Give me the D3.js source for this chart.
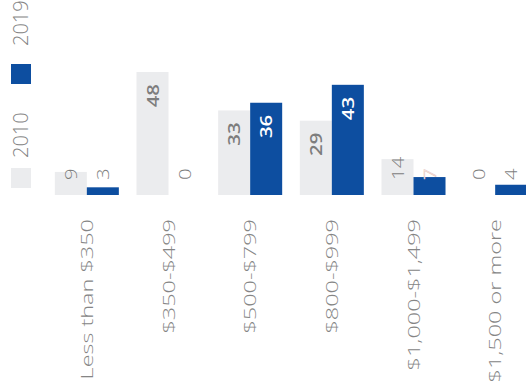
<!DOCTYPE html>
<html><head><meta charset="utf-8">
<script src="https://cdn.jsdelivr.net/npm/d3@7"></script>
<style>body{margin:0;background:#fff}svg{display:block}text{font-family:"Open Sans",sans-serif}</style>
</head><body><script>
const categories=["Less than $350","$350-$499","$500-$799","$800-$999","$1,000-$1,499","$1,500 or more"];
const series=["2010","2019"];
const values2010=[9,48,33,29,14,0];
const values2019=[3,0,36,43,7,4];
const colors=["#ebecee","#0d4ea0"];

const W=526,H=385;
const svg=d3.select("body").append("svg").attr("width",W).attr("height",H);
const baseline=195;
const y=d3.scaleLinear().domain([0,48]).range([baseline,72]);
const x=d3.scaleBand().domain(categories).range([46,536]).paddingInner(0.216).paddingOuter(0.108);
const xs=d3.scaleBand().domain(series).range([0,x.bandwidth()]);
const color=d3.scaleOrdinal().domain(series).range(colors);

const rows=categories.map((c,i)=>({cat:c,vals:[{s:"2010",v:values2010[i]},{s:"2019",v:values2019[i]}]}));

const g=svg.selectAll("g.grp").data(rows).join("g").attr("class","grp")
  .attr("transform",d=>`translate(${x(d.cat)},0)`);
g.selectAll("rect").data(d=>d.vals).join("rect")
  .attr("x",d=>xs(d.s)).attr("width",xs.bandwidth())
  .attr("y",d=>y(d.v)).attr("height",d=>baseline-y(d.v))
  .attr("fill",d=>color(d.s));

const VS=1.2;
g.selectAll("text.val").data(d=>d.vals).join("text").attr("class","val")
  .attr("transform",d=>{
    const cx=xs(d.s)+xs.bandwidth()/2;
    const yy=d.v>=20? y(d.v)+12 : baseline-15;
    return `translate(${cx},${yy}) rotate(-90) scale(${VS},1)`;})
  .attr("text-anchor",d=>d.v>=20?"end":"start")
  .attr("dy","0.36em")
  .attr("font-size",17)
  .attr("font-weight",d=>d.v>=20?600:300)
  .attr("fill",d=>d.s==="2019"&&d.v>=5?"#ffffff":"#7d7d7d")
  .attr("stroke",d=>d.s==="2019"&&d.v>=5&&d.v<20?"#e8c6be":null)
  .attr("stroke-width",0.5)
  .text(d=>d.v);

const CS=1.38;
svg.selectAll("text.cat").data(categories).join("text").attr("class","cat")
  .attr("transform",d=>`translate(${x(d)+x.bandwidth()/2},219) rotate(-90) scale(${CS},1)`)
  .attr("text-anchor","end").attr("dy","0.36em")
  .attr("font-size",17).attr("font-weight",300).attr("fill","#858585")
  .text(d=>d);

// legend
const legY=[188,84];
const legTextY=[158,46];
series.forEach((s,i)=>{
  svg.append("rect").attr("x",11).attr("y",legY[i]-20).attr("width",20).attr("height",20).attr("fill",color(s));
  svg.append("text").attr("transform",`translate(21,${legTextY[i]}) rotate(-90)`)
    .attr("text-anchor","start").attr("dy","0.36em")
    .attr("font-size",20).attr("font-weight",300).attr("fill","#858585").text(s);
});
</script></body></html>
